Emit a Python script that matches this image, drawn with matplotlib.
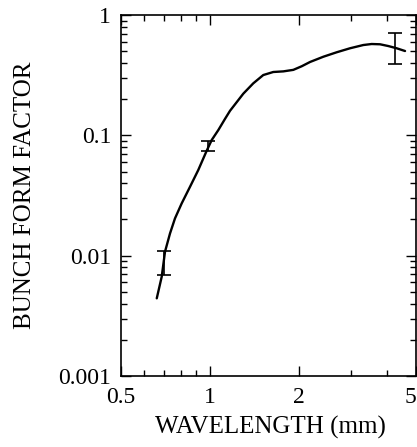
import numpy as np
import matplotlib
matplotlib.use("Agg")
import matplotlib.pyplot as plt
from matplotlib.ticker import FixedLocator, NullFormatter, LogLocator

# Curve data (wavelength mm, bunch form factor)
curve_x = [0.661, 0.687, 0.705, 0.733, 0.762, 0.803, 0.857, 0.914, 0.976, 1.015, 1.069,
           1.126, 1.171, 1.299, 1.404, 1.518, 1.641, 1.775, 1.919, 2.049, 2.187,
           2.426, 2.692, 2.987, 3.314, 3.538, 3.776, 4.03, 4.30, 4.59]
curve_y = [0.00442, 0.00668, 0.0108, 0.0153, 0.0204, 0.0272, 0.0374, 0.0515, 0.0745, 0.0914, 0.1107,
           0.137, 0.160, 0.222, 0.2705, 0.317, 0.336, 0.340, 0.350, 0.375, 0.407,
           0.450, 0.490, 0.529, 0.563, 0.574, 0.571, 0.552, 0.529, 0.502]

# Measured points with error bars
pt_x = [0.701, 0.989, 4.24]
pt_y = [0.0087, 0.082, 0.525]
pt_lo = [0.00686, 0.0745, 0.389]
pt_hi = [0.0110, 0.0902, 0.708]

xticks = [0.5, 1, 2, 5]
xticklabels = ["0.5", "1", "2", "5"]
yticks = [0.001, 0.01, 0.1, 1]
yticklabels = ["0.001", "0.01", "0.1", "1"]

plt.rcParams['font.family'] = ['Liberation Serif', 'DejaVu Serif']

fig = plt.figure(figsize=(4.17, 4.47), dpi=100)
ax = fig.add_axes([121/417, 1 - 376/447, (416-121)/417, (376-15)/447])

ax.set_xscale('log')
ax.set_yscale('log')
ax.plot(curve_x, curve_y, color='black', lw=1.7, solid_capstyle='round', solid_joinstyle='round')
yerr = [np.array(pt_y) - np.array(pt_lo), np.array(pt_hi) - np.array(pt_y)]
ax.errorbar(pt_x, pt_y, yerr=yerr, fmt='none', ecolor='black', elinewidth=1.2,
            capsize=5, capthick=1.2)

ax.set_xlim(0.5, 5)
ax.set_ylim(0.001, 1)
ax.xaxis.set_major_locator(FixedLocator(xticks))
ax.set_xticklabels(xticklabels)
ax.xaxis.set_minor_locator(LogLocator(base=10, subs=np.arange(2, 10) * 1.0))
ax.xaxis.set_minor_formatter(NullFormatter())
ax.yaxis.set_major_locator(FixedLocator(yticks))
ax.set_yticklabels(yticklabels)
ax.yaxis.set_minor_locator(LogLocator(base=10, subs=np.arange(2, 10) * 1.0))
ax.yaxis.set_minor_formatter(NullFormatter())

ax.tick_params(which='both', direction='in', top=True, right=True, labelsize=17, width=1.0)
ax.tick_params(which='major', length=7.5)
ax.tick_params(axis='x', which='major', pad=8)
ax.tick_params(axis='y', which='major', pad=7)
ax.tick_params(which='minor', length=4)
for s in ax.spines.values():
    s.set_linewidth(1.2)

# keep the last x tick label inside the figure, as in the reference
ax.get_xticklabels()[-1].set_horizontalalignment('right')

ax.set_xlabel("WAVELENGTH (mm)", fontsize=18)
ax.set_ylabel("BUNCH FORM FACTOR", fontsize=18)
ax.xaxis.set_label_coords((270-121)/(416-121), -(434-376)/(376-15), transform=ax.transAxes)
ax.xaxis.label.set_va('baseline')
ax.yaxis.set_label_coords(-(121-25)/(416-121), (376-195)/(376-15), transform=ax.transAxes)
ax.yaxis.label.set_va('center')

fig.savefig("out.png", dpi=100)
